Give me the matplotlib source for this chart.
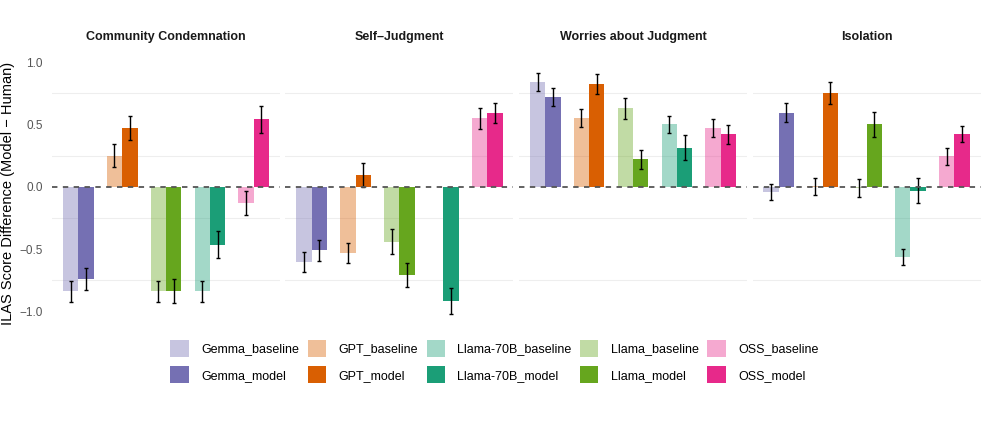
import numpy as np
import matplotlib.pyplot as plt
from matplotlib.patches import Patch

plt.rcParams['font.family'] = ['Liberation Sans', 'DejaVu Sans']

facets = ["Community Condemnation", "Self\u2013Judgment", "Worries about Judgment", "Isolation"]
models = ["Gemma", "GPT", "Llama", "Llama-70B", "OSS"]
legend_order = ["Gemma", "GPT", "Llama-70B", "Llama", "OSS"]
colors = {"Gemma": "#7570B3", "GPT": "#D95F02", "Llama-70B": "#1B9E77",
          "Llama": "#66A61E", "OSS": "#E7298A"}

# rows = facets, columns = models
baseline_mean = [
    [-0.84, 0.25, -0.84, -0.84, -0.13],
    [-0.60, -0.53, -0.44, np.nan, 0.55],
    [0.84, 0.55, 0.63, 0.50, 0.47],
    [-0.04, 0.003, -0.01, -0.56, 0.245],
]
baseline_err = [
    [0.083, 0.095, 0.083, 0.083, 0.096],
    [0.080, 0.082, 0.100, np.nan, 0.085],
    [0.069, 0.072, 0.085, 0.070, 0.073],
    [0.065, 0.066, 0.072, 0.064, 0.070],
]
model_mean = [
    [-0.74, 0.47, -0.835, -0.465, 0.54],
    [-0.51, 0.095, -0.71, -0.915, 0.59],
    [0.72, 0.825, 0.22, 0.315, 0.42],
    [0.595, 0.755, 0.50, -0.03, 0.425],
]
model_err = [
    [0.086, 0.097, 0.096, 0.110, 0.106],
    [0.084, 0.097, 0.096, 0.105, 0.080],
    [0.070, 0.080, 0.078, 0.100, 0.078],
    [0.074, 0.089, 0.100, 0.100, 0.066],
]

fig = plt.figure(figsize=(9.87, 4.26), dpi=100)
W, H = 987, 426
panel_left = [52, 285.5, 519, 752.5]
panel_w = 228
top, bottom = 61, 326
bw = 0.35
x = np.arange(len(models))

for k, name in enumerate(facets):
    ax = fig.add_axes([panel_left[k] / W, 1 - bottom / H, panel_w / W, (bottom - top) / H])
    for i, m in enumerate(models):
        c = colors[m]
        ax.bar(x[i] - bw / 2, baseline_mean[k][i], bw, color=c, alpha=0.4, zorder=2)
        ax.bar(x[i] + bw / 2, model_mean[k][i], bw, color=c, zorder=2)
        ax.errorbar(x[i] - bw / 2, baseline_mean[k][i], yerr=baseline_err[k][i],
                    fmt='none', ecolor='black', elinewidth=1, capsize=1.5, capthick=1, zorder=4)
        ax.errorbar(x[i] + bw / 2, model_mean[k][i], yerr=model_err[k][i],
                    fmt='none', ecolor='black', elinewidth=1, capsize=1.5, capthick=1, zorder=4)
    ax.axhline(0, color='#555555', lw=1.3, ls=(0, (3, 3)), zorder=5)
    ax.set_xlim(-0.6, 4.6)
    ax.set_ylim(-1.117, 1.009)
    ax.set_yticks([-1.0, -0.5, 0.0, 0.5, 1.0])
    ax.set_yticks([-0.75, -0.25, 0.25, 0.75], minor=True)
    ax.grid(which='minor', axis='y', color='#EEEEEE', lw=0.8, zorder=0)
    ax.set_xticks([])
    ax.tick_params(axis='y', which='both', length=0, labelsize=8.5, labelcolor='#555555', pad=6.5)
    ax.tick_params(axis='y', which='minor', labelleft=False)
    if k > 0:
        ax.tick_params(axis='y', labelleft=False)
    else:
        ax.set_ylabel("ILAS Score Difference (Model \u2212 Human)", fontsize=10.5, labelpad=3)
    for s in ax.spines.values():
        s.set_visible(False)
    ax.text(0.5, 1 + (top - 37) / (bottom - top), name, transform=ax.transAxes,
            ha='center', va='center', fontsize=9, fontweight='bold', color='#1A1A1A')

handles = []
for m in legend_order:
    handles.append(Patch(facecolor=colors[m], alpha=0.4, label=m + "_baseline"))
    handles.append(Patch(facecolor=colors[m], label=m + "_model"))
fig.legend(handles=handles, ncol=5, loc='center', bbox_to_anchor=(494.5 / W, 1 - 361.5 / H),
           frameon=False, fontsize=9, handlelength=1.45, handleheight=1.7,
           handletextpad=1.0, columnspacing=0.7, labelspacing=0.75,
           borderpad=0, borderaxespad=0)

fig.savefig("out.png", dpi=100)
